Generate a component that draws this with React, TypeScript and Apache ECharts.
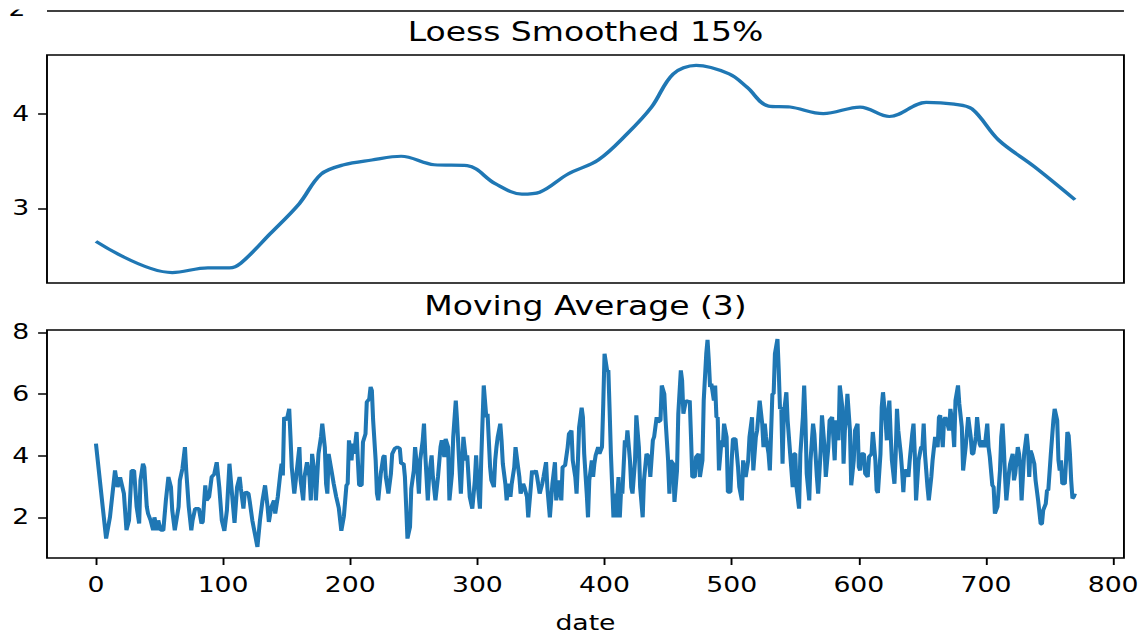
import React, { useEffect, useRef } from "react";
import * as echarts from "echarts";

// The figure is laid out on a 900px-wide canvas and stretched to the page width.
const PAGE_W = 1143;
const PAGE_H = 638;
const DRAW_W = 900;

const BLUE = "#1f77b4";
const FONT = "DejaVu Sans";

// Loess smoothed series (15% span)
const loessDates = [0, 60, 88, 105, 114, 137, 160, 177, 195, 217, 240, 266, 292, 314, 335, 349, 371, 395, 418, 437, 454, 472, 498, 512, 529, 546, 572, 601, 624, 653, 675, 689, 710, 738, 770];
const loessValues = [2.65, 2.32, 2.37, 2.37, 2.42, 2.73, 3.05, 3.36, 3.46, 3.51, 3.55, 3.46, 3.45, 3.26, 3.15, 3.17, 3.36, 3.51, 3.79, 4.07, 4.42, 4.51, 4.42, 4.28, 4.08, 4.07, 4.0, 4.07, 3.97, 4.12, 4.1, 4.05, 3.72, 3.44, 3.09];

// Moving average (3) series, by date
const maDates = [
  0, 8, 11, 15, 17, 18, 19, 22, 24, 26, 28, 30, 32, 34, 35, 37, 38, 40, 41, 43, 45, 46, 48, 49, 51, 53, 55, 57, 59, 60, 62, 65, 66, 68, 70, 71, 73, 75, 76, 78, 81, 83, 84, 86, 87, 89,
  91, 93, 95, 97, 99, 101, 103, 105, 107, 109, 111, 113, 114, 116, 117, 118, 120, 121, 123, 125, 127, 129, 131, 133, 135, 136, 138, 140, 141, 143, 145, 146, 147, 148, 150, 152, 153, 154, 156, 158, 160, 161, 163, 164, 166, 168, 169, 170, 172, 173, 175, 177, 178, 180, 181, 182, 183, 185, 187, 189,
  191, 193, 195, 197, 198, 199, 201, 202, 203, 205, 206, 207, 209, 210, 212, 213, 215, 216, 217, 218, 220, 221, 222, 224, 226, 227, 228, 230, 232, 233, 235, 237, 239, 240, 242, 243, 244, 245, 247, 248, 250, 251, 253, 254, 255, 257, 258, 259, 261, 262, 264, 265, 267, 269, 271, 272, 274, 275, 277, 278, 280, 281, 283, 284, 286, 287, 289,
  291, 292, 294, 296, 298, 299, 300, 302, 303, 305, 307, 308, 310, 311, 313, 314, 315, 316, 318, 319, 320, 322, 323, 325, 326, 327, 329, 330, 332, 333, 334, 336, 337, 339, 340, 342, 343, 344, 346, 347, 349, 351, 352, 354, 355, 357, 359, 361, 362, 364, 366, 367, 369, 371, 372, 374, 375, 377, 378, 379, 380, 382, 383, 384, 386, 387,
  388, 390, 391, 392, 393, 395, 396, 398, 399, 400, 402, 403, 404, 405, 407, 408, 409, 411, 412, 413, 414, 416, 417, 418, 420, 421, 422, 424, 425, 427, 428, 430, 431, 433, 435, 436, 438, 439, 441, 442, 444, 445, 447, 448, 450, 451, 452, 454, 455, 457, 458, 460, 461, 462, 464, 466, 467, 468, 469, 471, 472, 474, 475, 477, 478, 480, 481, 482, 483,
  484, 486, 487, 488, 489, 490, 492, 493, 494, 496, 497, 499, 500, 501, 503, 505, 506, 508, 509, 511, 513, 514, 516, 517, 519, 520, 522, 524, 525, 526, 527, 529, 530, 532, 533, 534, 536, 537, 538, 539, 540, 541, 543, 544, 546, 548, 549, 550, 551, 553, 554, 556, 557, 558, 559, 561, 562, 564, 565, 567, 568, 570, 571, 573, 574, 576, 577, 579, 581, 582, 584, 585,
  587, 588, 589, 590, 591, 593, 594, 596, 597, 599, 600, 601, 602, 604, 605, 607, 608, 610, 611, 613, 614, 615, 617, 618, 619, 621, 622, 623, 624, 625, 626, 628, 629, 630, 631, 633, 634, 635, 636, 638, 639, 640, 642, 643, 644, 645, 647, 649, 650, 651, 652, 654, 655, 657, 658, 660, 662, 663, 664, 666, 667, 668, 669, 671, 672, 674, 675, 676, 678, 679, 681, 682,
  684, 686, 688, 689, 690, 692, 693, 695, 696, 697, 699, 701, 702, 703, 705, 706, 707, 709, 711, 712, 713, 714, 715, 716, 718, 719, 721, 722, 723, 725, 726, 727, 728, 729, 730, 732, 733, 734, 735, 736, 738, 739, 741, 743, 744, 745, 747, 748, 749, 751, 753, 754, 756, 757, 758, 759, 760, 762, 763, 764, 765, 766, 767, 768, 769, 770,
];
const maValues = [
  4.39, 1.31, 2.0, 3.52, 2.98, 3.09, 3.3, 2.77, 1.58, 1.9, 3.52, 3.52, 2.34, 1.8, 3.2, 3.74, 3.63, 2.34, 2.12, 1.9, 1.58, 2.0, 1.58, 1.9, 1.58, 1.58, 2.55, 3.31, 2.98, 2.23, 1.58, 2.34, 3.2, 3.58, 4.28, 3.52, 2.34, 1.58, 1.9, 2.28, 2.28, 1.8, 1.85, 3.04, 2.55, 2.66,
  3.31, 3.4, 3.79, 2.98, 1.9, 1.56, 2.23, 3.74, 2.77, 1.82, 2.98, 3.31, 2.93, 2.28, 2.77, 2.82, 2.77, 2.5, 1.9, 1.47, 1.04, 1.9, 2.55, 3.04, 2.34, 1.85, 2.34, 2.55, 2.12, 2.66, 3.42, 3.74, 3.36, 5.25, 5.15, 5.52, 4.61, 3.63, 2.77, 3.52, 4.28, 3.2, 2.55, 3.31, 3.79, 3.31, 2.55, 4.06, 3.42, 2.55, 4.06, 4.61, 5.04, 4.28, 3.09, 2.77, 4.06, 3.58, 3.09, 2.66,
  2.3, 1.56, 2.03, 3.04, 3.09, 4.5, 3.85, 4.39, 4.06, 4.77, 3.85, 3.04, 3.04, 4.44, 4.71, 5.74, 5.85, 6.23, 6.12, 5.15, 3.85, 2.77, 2.55, 3.42, 3.96, 4.01, 3.31, 2.77, 3.42, 4.06, 4.23, 4.28, 4.23, 3.74, 3.74, 3.31, 2.34, 1.31, 1.69, 2.93, 3.52, 4.28, 3.42, 2.77, 3.85, 4.5, 5.04, 4.06, 2.55, 3.31, 4.01, 3.31, 2.55, 3.31, 4.28, 4.5, 3.96, 4.55, 4.28, 2.55, 3.42, 4.61, 5.79, 5.15, 3.52, 2.77, 4.61,
  3.85, 4.01, 2.66, 2.28, 3.2, 4.01, 3.2, 2.28, 3.85, 6.28, 5.25, 5.36, 3.63, 3.2, 2.98, 3.85, 4.28, 4.61, 5.04, 4.5, 3.74, 3.09, 2.55, 3.09, 2.66, 3.09, 3.63, 4.28, 3.63, 3.31, 2.77, 3.09, 2.98, 2.66, 2.0, 2.98, 3.52, 3.42, 3.52, 3.31, 2.77, 3.09, 3.31, 3.79, 2.98, 2.0, 3.09, 3.79, 2.55, 3.2, 2.55, 3.63, 3.69, 4.28, 4.71, 4.82, 3.85, 3.31, 2.77, 3.74, 4.93, 5.56, 5.25, 4.06, 2.77, 2.0,
  3.2, 3.85, 3.31, 3.74, 4.01, 4.28, 4.06, 4.28, 5.69, 7.31, 6.77, 6.77, 5.47, 4.06, 2.0, 2.77, 2.0, 3.31, 2.0, 2.88, 2.77, 4.5, 4.28, 4.82, 3.85, 2.98, 2.77, 3.85, 5.31, 4.28, 2.98, 2.0, 3.2, 4.06, 3.96, 3.31, 4.5, 4.61, 5.25, 5.09, 5.15, 6.28, 6.01, 5.15, 3.85, 2.77, 3.85, 3.74, 2.5, 3.52, 5.36, 6.77, 6.44, 5.36, 5.79, 5.74, 5.79, 4.61, 3.31, 3.31, 3.96, 4.06, 3.31, 3.85, 5.79, 7.31, 7.76, 7.09, 6.23,
  6.34, 5.79, 6.28, 5.25, 5.25, 3.52, 4.5, 4.28, 5.04, 4.61, 2.82, 2.82, 3.85, 4.55, 4.55, 3.63, 2.98, 2.55, 3.85, 3.31, 3.85, 4.61, 5.25, 3.52, 4.61, 4.82, 5.79, 5.04, 4.28, 5.04, 4.61, 4.06, 3.52, 6.01, 6.01, 7.31, 7.79, 6.77, 5.52, 5.58, 3.74, 5.36, 6.06, 5.15, 4.06, 2.98, 4.06, 4.06, 2.98, 2.28, 4.06, 5.25, 6.28, 5.15, 3.42, 2.55, 3.85, 5.04, 4.71, 3.31, 2.77, 4.17, 5.31, 4.28, 3.31, 4.28, 5.15, 5.25, 3.85, 5.15, 4.5, 6.28,
  5.58, 3.74, 4.82, 5.25, 6.01, 4.82, 3.04, 3.85, 4.82, 5.04, 3.63, 3.52, 4.06, 4.06, 3.42, 3.31, 3.96, 4.06, 4.77, 3.85, 2.88, 2.79, 4.06, 5.58, 6.06, 5.15, 4.5, 5.36, 5.79, 4.71, 3.85, 3.09, 4.06, 5.52, 4.82, 4.06, 3.52, 2.82, 3.52, 3.52, 3.31, 3.85, 4.71, 5.04, 4.06, 2.55, 3.85, 4.28, 4.28, 5.04, 4.06, 2.98, 2.55, 3.31, 3.85, 4.61, 4.28, 5.25, 5.31, 4.28, 5.15, 5.25, 5.15, 4.82, 5.52, 4.93, 4.28, 5.79, 6.28, 5.69, 4.93, 3.52,
  4.28, 5.25, 4.61, 4.06, 4.06, 4.61, 5.25, 4.39, 4.28, 4.5, 4.28, 5.04, 4.28, 3.96, 3.04, 2.98, 2.12, 2.34, 3.52, 4.61, 5.04, 4.28, 3.31, 2.55, 3.42, 3.74, 4.06, 3.2, 3.42, 4.28, 4.06, 3.63, 2.55, 3.31, 4.06, 4.71, 4.28, 3.31, 4.17, 4.06, 3.74, 3.2, 2.55, 1.79, 1.79, 2.23, 2.44, 2.88, 2.88, 4.06, 5.15, 5.52, 5.15, 3.85, 3.52, 3.85, 3.09, 3.09, 3.85, 4.77, 4.66, 4.06, 3.2, 2.61, 2.66, 2.77,
];

// Axis ticks
const dateTicks = [0, 100, 200, 300, 400, 500, 600, 700, 800];
const loessTicks = [3, 4];
const maTicks = [2, 4, 6, 8];

// Axis ranges (5% padding around the data, as in the source figure)
const X_MIN = -38.5;
const X_MAX = 808.5;
const LOESS_MIN = 2.21;
const LOESS_MAX = 4.62;
const MA_MIN = 0.68;
const MA_MAX = 8.08;

// Panel geometry on the 900px canvas
const GRID_LEFT = 37;
const GRID_RIGHT = 15;
const PANEL_H = 228;
const LOESS_TOP = 55;
const MA_TOP = 330;

const zip = (xs: number[], ys: number[]) => xs.map((x, i) => [x, ys[i]]);

const tickStyle = { color: "#000", width: 1.5 };
const labelStyle = { color: "#000", fontSize: 21, fontFamily: FONT };
const hiddenLine = { show: false, onZero: false };

function buildOption(): echarts.EChartsOption {
  const plotRight = DRAW_W - GRID_RIGHT;
  const plotMid = (GRID_LEFT + plotRight) / 2;
  return {
    animation: false,
    backgroundColor: "#fff",
    textStyle: { fontFamily: FONT },
    grid: [
      { left: GRID_LEFT, right: GRID_RIGHT, top: LOESS_TOP, height: PANEL_H, show: true, borderColor: "#000", borderWidth: 1.5, backgroundColor: "transparent" },
      { left: GRID_LEFT, right: GRID_RIGHT, top: MA_TOP, height: PANEL_H, show: true, borderColor: "#000", borderWidth: 1.5, backgroundColor: "transparent" },
    ],
    xAxis: [
      {
        type: "value", gridIndex: 0, min: X_MIN, max: X_MAX,
        axisLine: hiddenLine, axisTick: { show: false }, axisLabel: { show: false }, splitLine: { show: false },
      },
      {
        type: "value", gridIndex: 1, min: X_MIN, max: X_MAX, position: "bottom",
        name: "date", nameLocation: "middle", nameGap: 54,
        nameTextStyle: { ...labelStyle },
        axisLine: hiddenLine,
        axisTick: { show: true, length: 7, lineStyle: tickStyle, customValues: dateTicks } as any,
        axisLabel: { ...labelStyle, margin: 16, customValues: dateTicks } as any,
        splitLine: { show: false },
      },
    ],
    yAxis: [
      {
        type: "value", gridIndex: 0, min: LOESS_MIN, max: LOESS_MAX, position: "left",
        axisLine: hiddenLine,
        axisTick: { show: true, length: 7, lineStyle: tickStyle, customValues: loessTicks } as any,
        axisLabel: { ...labelStyle, margin: 14, customValues: loessTicks } as any,
        splitLine: { show: false },
      },
      {
        type: "value", gridIndex: 1, min: MA_MIN, max: MA_MAX, position: "left",
        axisLine: hiddenLine,
        axisTick: { show: true, length: 7, lineStyle: tickStyle, customValues: maTicks } as any,
        axisLabel: { ...labelStyle, margin: 14, customValues: maTicks } as any,
        splitLine: { show: false },
      },
    ],
    series: [
      {
        name: "Loess Smoothed 15%", type: "line", xAxisIndex: 0, yAxisIndex: 0,
        data: zip(loessDates, loessValues), showSymbol: false, smooth: 0.35,
        lineStyle: { color: BLUE, width: 3.2 }, itemStyle: { color: BLUE },
      },
      {
        name: "Moving Average (3)", type: "line", xAxisIndex: 1, yAxisIndex: 1,
        data: zip(maDates, maValues), showSymbol: false,
        lineStyle: { color: BLUE, width: 3.2 }, itemStyle: { color: BLUE },
      },
    ],
    graphic: [
      // bottom edge of the panel above, cut by the top of the figure
      { type: "line", shape: { x1: GRID_LEFT, y1: 11, x2: plotRight, y2: 11 }, style: { stroke: "#000", lineWidth: 1.5 } },
      {
        type: "text", x: 20, y: 19, z: 1,
        style: { text: "2", fill: "#000", fontSize: 21, fontFamily: FONT, align: "right", textAlign: "right", verticalAlign: "bottom", textVerticalAlign: "bottom" } as any,
      },
      { type: "rect", shape: { x: 0, y: 0, width: 30, height: 9.5 }, style: { fill: "#fff" }, z: 2 },
      {
        type: "text", x: plotMid, y: 32,
        style: { text: "Loess Smoothed 15%", fill: "#000", fontSize: 26, fontFamily: FONT, align: "center", textAlign: "center", verticalAlign: "middle", textVerticalAlign: "middle" } as any,
      },
      {
        type: "text", x: plotMid, y: 306,
        style: { text: "Moving Average (3)", fill: "#000", fontSize: 26, fontFamily: FONT, align: "center", textAlign: "center", verticalAlign: "middle", textVerticalAlign: "middle" } as any,
      },
    ],
  };
}

export default function App() {
  const ref = useRef<HTMLDivElement>(null);
  useEffect(() => {
    if (!ref.current) return;
    const chart = echarts.init(ref.current, null, { renderer: "svg" });
    chart.setOption(buildOption());
    return () => chart.dispose();
  }, []);
  return (
    <div
      ref={ref}
      style={{
        position: "fixed",
        left: 0,
        top: 0,
        width: DRAW_W,
        height: PAGE_H,
        background: "#fff",
        transform: `scaleX(${PAGE_W / DRAW_W})`,
        transformOrigin: "0 0",
      }}
    />
  );
}
